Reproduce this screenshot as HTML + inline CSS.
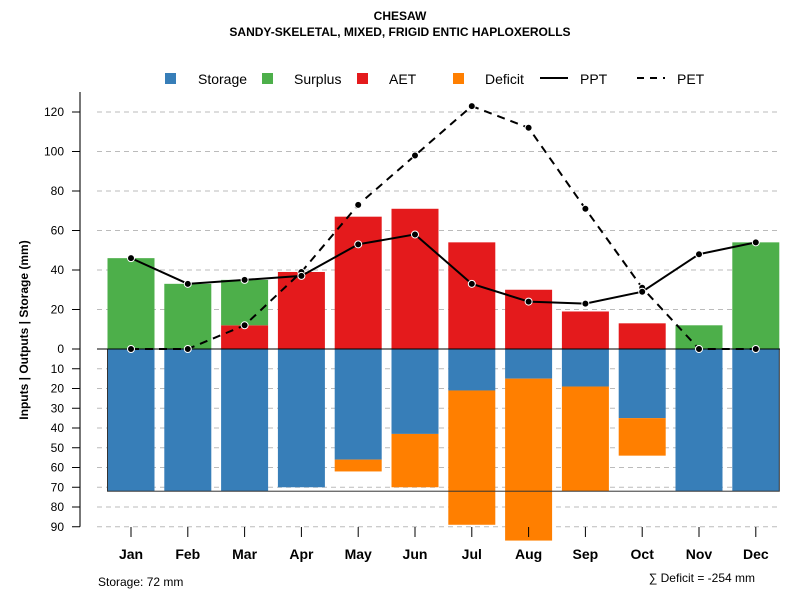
<!DOCTYPE html>
<html><head><meta charset="utf-8"><style>body{margin:0;background:#fff}svg{font-family:"Liberation Sans",sans-serif}</style></head>
<body>
<svg id="c" width="800" height="600"></svg>
<script>
const months=["Jan","Feb","Mar","Apr","May","Jun","Jul","Aug","Sep","Oct","Nov","Dec"];
const surplus=[46,33,23,0,0,0,0,0,0,0,12,54];
const aet=[0,0,12,39,67,71,54,30,19,13,0,0];
const ppt=[46,33,35,37,53,58,33,24,23,29,48,54];
const pet=[0,0,12,39,73,98,123,112,71,31,0,0];
const storage=[72,72,72,70,56,43,21,15,19,35,72,72];
const deficit=[0,0,0,0,6,27,68,82,53,19,0,0];
const posTicks=[0,20,40,60,80,100,120];
const negTicks=[10,20,30,40,50,60,70,80,90];
const capacity=72;
const ns="http://www.w3.org/2000/svg",svg=document.getElementById('c');
function el(t,a,txt){const e=document.createElementNS(ns,t);for(const k in a)e.setAttribute(k,a[k]);if(txt!==undefined)e.textContent=txt;svg.appendChild(e);return e;}
const y0=349,k=1.975;
const Y=v=>y0-v*k;
const X=i=>131+i*56.8;
const bw=47;
posTicks.concat(negTicks.map(v=>-v)).forEach(v=>{if(v!==0){const g=el('line',{x1:97,x2:780,y1:Y(v),y2:Y(v),stroke:'#bbb','stroke-dasharray':'5,4'});}});
months.forEach((m,i)=>{
 const x=X(i)-bw/2;
 let r;
 r=el('rect',{x:x,y:Y(0),width:bw,height:storage[i]*k,fill:'#377eb8'});
 
 if(deficit[i]>0){r=el('rect',{x:x,y:Y(-storage[i]),width:bw,height:deficit[i]*k,fill:'#ff7f00'});
 }
 if(aet[i]>0){r=el('rect',{x:x,y:Y(aet[i]),width:bw,height:aet[i]*k,fill:'#e41a1c'});
 }
 if(surplus[i]>0){r=el('rect',{x:x,y:Y(aet[i]+surplus[i]),width:bw,height:surplus[i]*k,fill:'#4daf4a'});
 }
});
let b=el('rect',{x:X(0)-bw/2,y:Y(0),width:X(11)+bw/2-(X(0)-bw/2),height:capacity*k,fill:'none',stroke:'#333','stroke-width':1});

b=el('line',{x1:97,x2:780,y1:Y(0),y2:Y(0),stroke:'#000'});
function line(arr,dash,name){const p=el('polyline',{points:arr.map((v,i)=>X(i)+','+Y(v)).join(' '),fill:'none',stroke:'#000','stroke-width':2,'stroke-dasharray':dash});

arr.forEach((v,i)=>{const c=el('circle',{cx:X(i),cy:Y(v),r:3.5,fill:'#000',stroke:'#fff','stroke-width':1});});}
line(pet,'8,6','pet-line');line(ppt,'','ppt-line');
b=el('line',{x1:80,x2:80,y1:92,y2:Y(-90),stroke:'#777','stroke-width':2});
posTicks.forEach(v=>{let t=el('line',{x1:72,x2:80,y1:Y(v),y2:Y(v),stroke:'#000'});
 t=el('text',{x:64,y:Y(v)+4,'text-anchor':'end','font-size':12},v);});
negTicks.forEach(v=>{let t=el('line',{x1:72,x2:80,y1:Y(-v),y2:Y(-v),stroke:'#000'});
 t=el('text',{x:64,y:Y(-v)+4,'text-anchor':'end','font-size':12},v);});
months.forEach((m,i)=>{let t=el('line',{x1:X(i),x2:X(i),y1:527,y2:537,stroke:'#000'});
 t=el('text',{x:X(i),y:559,'text-anchor':'middle','font-size':14,'font-weight':'bold'},m);});
b=el('text',{x:0,y:0,transform:'translate(28,330) rotate(-90)','text-anchor':'middle','font-size':12,'font-weight':'bold','xml:space':'preserve'},'Inputs | Outputs | Storage    (mm)');
b=el('text',{x:400,y:20,'text-anchor':'middle','font-size':12,'font-weight':'bold'},'CHESAW');
b=el('text',{x:400,y:36,'text-anchor':'middle','font-size':12,'font-weight':'bold'},'SANDY-SKELETAL, MIXED, FRIGID ENTIC HAPLOXEROLLS');
b=el('text',{x:98,y:586,'font-size':12},'Storage: 72 mm');
b=el('text',{x:755,y:582,'text-anchor':'end','font-size':12},'∑ Deficit = -254 mm');
const leg=[["Storage",'#377eb8',165,198],["Surplus",'#4daf4a',262,294],["AET",'#e41a1c',357,389],["Deficit",'#ff7f00',453,485]];
leg.forEach(l=>{let r=el('rect',{x:l[2],y:73,width:11,height:11,fill:l[1]});
 r=el('text',{x:l[3],y:84,'font-size':14},l[0]);});
b=el('line',{x1:540,x2:568,y1:78,y2:78,stroke:'#000','stroke-width':2});
b=el('text',{x:580,y:84,'font-size':14},'PPT');
b=el('line',{x1:637,x2:665,y1:78,y2:78,stroke:'#000','stroke-width':2,'stroke-dasharray':'7,6'});
b=el('text',{x:677,y:84,'font-size':14},'PET');
</script>
</body></html>
